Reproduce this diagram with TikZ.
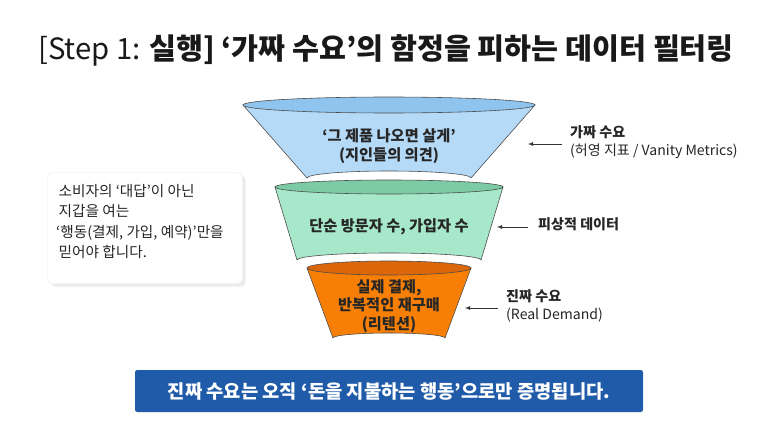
\documentclass[tikz,border=0pt]{standalone}
\usepackage{fontspec}
\setmainfont{Noto Sans CJK KR}
\usetikzlibrary{positioning,shadows}
\definecolor{fakeblue}{HTML}{B5DAF8}
\definecolor{fakebluetop}{HTML}{8FC4EE}
\definecolor{midgreen}{HTML}{A6E8C9}
\definecolor{midgreentop}{HTML}{7CCBA4}
\definecolor{realorange}{HTML}{F77F05}
\definecolor{realorangetop}{HTML}{DC670B}
\definecolor{banner}{HTML}{1F5BA8}
\tikzset{
	seg/.style = {draw=black!70, line width=0.5pt},
	segtext/.style = {align=center, font=\fontsize{13}{16}\selectfont\bfseries, text=black!85},
	lbl/.style = {align=left, anchor=north west, inner sep=0pt, font=\fontsize{12}{16}\selectfont, text=black!85},
	pointer/.style = {-latex, line width=0.5pt, black!80}
}
\begin{document}
\begin{tikzpicture}[x=0.03cm, y=-0.03cm]
	\useasboundingbox (0,0) rectangle (773,423);
	\fill[white] (0,0) rectangle (773,423);

	% title
	\node[font=\fontsize{25}{30}\selectfont, text=black!90] (title) at (386,50)
		{[Step 1: \textbf{실행] ‘가짜 수요’의 함정을 피하는 데이터 필터링}};

	% funnel: top
	\draw[seg, fill=fakeblue] (243,105) -- (307,178) arc[start angle=180, end angle=360, x radius=82, y radius=7] -- (535,105) -- cycle;
	\draw[seg, fill=fakebluetop] (389,105) ellipse[x radius=146, y radius=8];
	% funnel: middle
	\draw[seg, fill=midgreen] (275,187) -- (297,260) arc[start angle=180, end angle=360, x radius=92, y radius=7] -- (503,187) -- cycle;
	\draw[seg, fill=midgreentop] (389,187) ellipse[x radius=114, y radius=7];
	% funnel: bottom
	\draw[seg, fill=realorange] (307,268) -- (333,338) arc[start angle=180, end angle=360, x radius=56, y radius=5] -- (471,268) -- cycle;
	\draw[seg, fill=realorangetop] (389,268) ellipse[x radius=82, y radius=7];

	\node[segtext] (fake) at (389,146) {‘그 제품 나오면 살게’\\(지인들의 의견)};
	\node[segtext] (surface) at (389,227) {단순 방문자 수, 가입자 수};
	\node[segtext] (real) at (389,306) {실제 결제,\\반복적인 재구매\\(리텐션)};

	% side labels
	\coordinate (fakeedge) at (528,144);
	\coordinate (surfaceedge) at (497,227);
	\coordinate (realedge) at (465,308);
	\coordinate (fakefrom) at (562,144);
	\coordinate (surfacefrom) at (528,227);
	\coordinate (realfrom) at (498,308);
	\node[lbl] (fakelbl) at (570,125) {\textbf{가짜 수요}\\(허영 지표 / Vanity Metrics)};
	\node[lbl] (surfacelbl) at (538,217) {\textbf{피상적 데이터}};
	\node[lbl] (reallbl) at (506,289) {\textbf{진짜 수요}\\(Real Demand)};
	\draw[pointer] (fakefrom) -- (fakeedge);
	\draw[pointer] (surfacefrom) -- (surfaceedge);
	\draw[pointer] (realfrom) -- (realedge);

	% note box
	\node[draw=black!8, fill=white, rounded corners=4pt, drop shadow={opacity=0.15},
		minimum width=195*0.03cm, minimum height=111*0.03cm] (notebox) at (145,228) {};
	\node[lbl, font=\fontsize{12.5}{17.5}\selectfont] (note) at (56,184)
		{\,소비자의 ‘대답’이 아닌\\\,지갑을 여는\\‘행동(결제, 가입, 예약)’만을\\\,믿어야 합니다.};

	% banner
	\node[fill=banner, text=white, rounded corners=2pt, minimum width=508*0.03cm, minimum height=42*0.03cm,
		font=\fontsize{16}{18}\selectfont\bfseries] (bannerbox) at (389,391)
		{진짜 수요는 오직 ‘돈을 지불하는 행동’으로만 증명됩니다.};
\end{tikzpicture}
\end{document}
